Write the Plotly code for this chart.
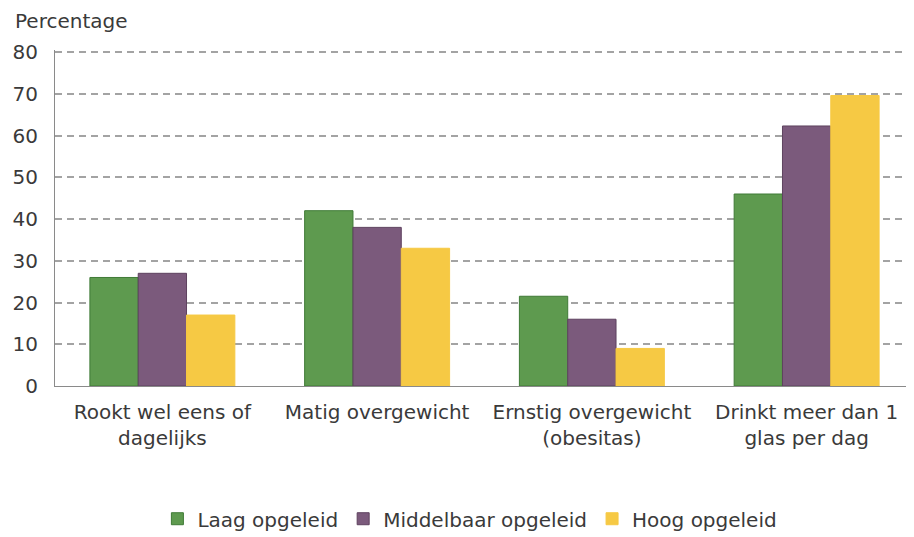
import plotly.graph_objects as go

# ─── Data ─────────────────────────────────────────────────────────────────────

categories = [
    "Rookt wel eens of<br>dagelijks",
    "Matig overgewicht",
    "Ernstig overgewicht<br>(obesitas)",
    "Drinkt meer dan 1<br>glas per dag",
]
laag = [26, 42, 21.5, 46]
middelbaar = [27, 38, 16, 62.3]
hoog = [17, 33, 9, 69.6]

series = [
    ("Laag opgeleid", laag, "#5e9a4f", "#3f7a36"),
    ("Middelbaar opgeleid", middelbaar, "#7b5a7c", "#5e425f"),
    ("Hoog opgeleid", hoog, "#f6c944", "#f6c944"),
]

TEXT = "#3a3a3a"
GRID = "#a3a3a3"
FONT = "DejaVu Sans, Verdana, sans-serif"

fig = go.Figure()
for name, vals, color, edge in series:
    fig.add_trace(go.Bar(
        x=categories, y=vals, name=name,
        marker=dict(color=color, line=dict(color=edge, width=1)),
    ))

# page body has an 8px margin, so the figure is a bit smaller than the window
fig.update_layout(
    width=906, height=529,
    paper_bgcolor="white", plot_bgcolor="white",
    font=dict(family=FONT, color=TEXT, size=20),
    margin=dict(l=47, r=0, t=42, b=151, autoexpand=False),
    barmode="group", bargap=0.325, bargroupgap=0,
    showlegend=True,
    legend=dict(orientation="h", x=0.483, xanchor="center", y=-0.337, yanchor="top",
                font=dict(size=20, color=TEXT), itemwidth=30, traceorder="normal"),
    annotations=[dict(text="Percentage", xref="paper", yref="paper", x=-0.049, y=1.085,
                      xanchor="left", yanchor="middle", showarrow=False,
                      font=dict(size=20, color=TEXT))],
)
fig.update_yaxes(range=[0, 80.5], tickvals=list(range(0, 90, 10)), showgrid=True,
                 gridcolor=GRID, griddash="7px,5px", gridwidth=2,
                 showline=True, linecolor="#8a8a8a", ticks="", zeroline=False,
                 ticklabelstandoff=12, tickfont=dict(size=20, color=TEXT))
fig.update_xaxes(showline=True, linecolor="#8a8a8a", ticks="", ticklabelstandoff=8,
                 tickfont=dict(size=20, color=TEXT))

fig.write_html("out.html")
